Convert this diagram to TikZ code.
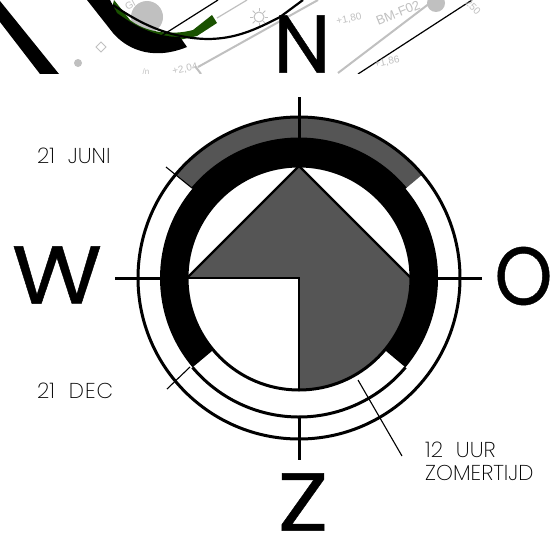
\documentclass[tikz,border=0pt]{standalone}
\usepackage{fontspec}
\setmainfont{Poppins}[FakeBold=0.5]
\newfontfamily\thinfont{Poppins ExtraLight}
\newfontfamily\smallfont{Liberation Sans}
\definecolor{band}{RGB}{85,85,85}
\definecolor{mapgray}{RGB}{192,192,192}
\definecolor{mapgreen}{RGB}{26,82,0}
\tikzset{
  compass/.style={font=\fontsize{82}{82}\selectfont,inner sep=0pt,text=black},
  note/.style={font=\thinfont\fontsize{21.5}{21.5}\selectfont,inner sep=0pt,anchor=west,text=black},
  maplabel/.style={font=\smallfont\fontsize{10}{10}\selectfont,text=mapgray,inner sep=0pt},
  ring/.style={draw=black,line width=3pt},
  tick/.style={draw=black,line width=3pt},
  thinline/.style={draw=black,line width=1.1pt},
  mapline/.style={draw=mapgray,line width=1.2pt},
  mapthick/.style={draw=mapgray,line width=2pt},
}
\begin{document}
\begin{tikzpicture}[x=1pt,y=-1pt]
\path[use as bounding box,fill=white] (0,0) rectangle (553,535);
% map fragment
\begin{scope}
\clip (0,0) rectangle (553,73);
\fill[mapgray] (147,17) circle (16);
\draw[mapline] (217,18) -- (247,0);
\draw[mapthick] (198,67) -- (318,0);
\draw[mapthick] (195,66) -- (201,74);
\draw[mapthick] (338,73) -- (430,3);
\draw[mapgray,line width=1pt] (101,42) -- (106,47) -- (101,52) -- (96,47) -- cycle;
\fill[mapgray] (78,63) circle (4);
\draw[mapgray,line width=1pt] (259,17) circle (5);
\foreach \a in {0,45,...,315} \draw[mapgray,line width=.8pt] (259,17) ++(\a:6) -- ++(\a:3);
\begin{scope}
\clip (427,-2) -- (445,-2) -- (445,15) -- (427,15) -- cycle;
\fill[mapgray] (436,3) circle (9);
\end{scope}
\fill[mapgreen] (114,0) -- (130,20) .. controls (145,32) and (170,36) .. (193,30)
  -- (212,15) -- (217,23) -- (197,36) -- (170,42) -- (140,38) -- (112,8) -- cycle;
\fill[black] (87,0) -- (113,33) .. controls (125,47) and (150,62) .. (187,47) -- (180,37)
  .. controls (160,37) and (140,30) .. (117,13) -- (110,0) -- cycle;
\fill[black] (0,1) -- (59,74) -- (40,74) -- (0,22) -- cycle;
\draw[black,line width=2.2pt] (113,5) .. controls (135,20) and (165,38) .. (207,39)
  .. controls (235,39) and (255,30) .. (280,17) -- (303,0);
\draw[black,line width=1.2pt] (158,38) -- (218,0);
\draw[black,line width=1.2pt] (358,74) -- (472,0);
\node[maplabel,rotate=28] (m1) at (130,5) {Gl};
\node[maplabel,rotate=12] (m2) at (185,69) {+2,04};
\node[maplabel,font=\smallfont\fontsize{8}{8}\selectfont] (m3) at (146,72) {/n};
\node[maplabel,rotate=12] (m4) at (349,19) {+1,80};
\node[maplabel,rotate=22,font=\smallfont\fontsize{13}{13}\selectfont] (m5) at (398,13) {BM-F02};
\node[maplabel,rotate=12] (m6) at (387,62) {+1,86};
\node[maplabel,rotate=-45] (m7) at (473,7) {250};
\end{scope}
% compass
\coordinate (c) at (299,278);
\fill[band] (c) ++(-140:160) arc (-140:-40:160) -- ++(140:21) arc (-40:-140:139) -- cycle;
\fill[black] (c) ++(40:139) arc (40:-220:139) -- ++(-40:27) arc (-220:40:112) -- cycle;
\fill[band] (299,166) -- (187,278) -- (299,278) -- (299,390) arc (90:0:112) -- cycle;
\path[ring] (c) circle (161);
\path[ring] (c) ++(-140:139) arc (-140:-40:139);
\path[ring] (c) ++(40:139) arc (40:140:139);
\path[ring] (c) circle (112);
\draw[line width=2.4pt,line join=miter] (187,278) -- (299,166) -- (411,278);
\draw[line width=2.4pt] (187,278) -- (c) -- (299,390);
\coordinate (nt) at (299,97); \coordinate (nb) at (299,139);
\coordinate (st) at (299,417); \coordinate (sb) at (299,460);
\coordinate (wl) at (115,278); \coordinate (wr) at (160,278);
\coordinate (el) at (438,278); \coordinate (er) at (482,278);
\path[tick] (nt) -- (nb);
\path[tick] (st) -- (sb);
\path[tick] (wl) -- (wr);
\path[tick] (el) -- (er);
\coordinate (ja) at (192,188); \coordinate (jb) at (166,167);
\coordinate (de) at (190,367); \coordinate (df) at (167,389);
\coordinate (ha) at (358,380); \coordinate (hb) at (402,456);
\path[thinline] (ja) -- (jb);
\path[thinline] (de) -- (df);
\path[thinline] (ha) -- (hb);
\node[compass] (N) at (302,44) {N};
\node[compass,xscale=1.13] (W) at (57,275) {W};
\node[compass,xscale=.9] (O) at (523.5,276) {O};
\node[compass,xscale=1.15] (Z) at (303,502) {Z};
\node[note] (juni) at (37,156) {21\hspace{.6em}JUNI};
\node[note] (dec) at (37,391) {21\hspace{.65em}D\kern1pt E\kern1pt C};
\node[note] (uur) at (425,450) {12\hspace{.6em}UUR};
\node[note] (zomer) at (425,473) {ZOMERTIJD};
\end{tikzpicture}
\end{document}
